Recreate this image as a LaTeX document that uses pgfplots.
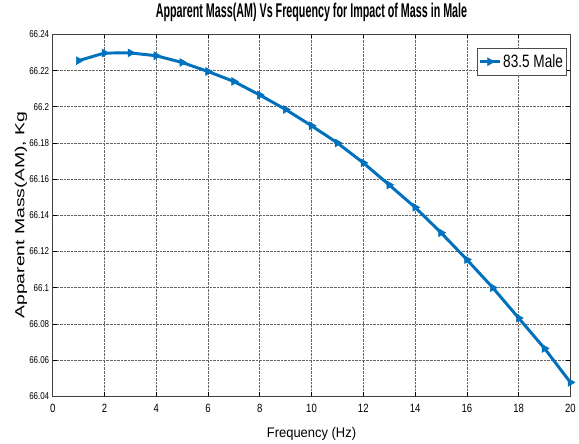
\documentclass[border=0pt]{standalone}
\usepackage{graphicx}
\usepackage{pgfplots}
\pgfplotsset{compat=1.18}
\usepackage{fontspec}
\setmainfont{Liberation Sans}
\newfontfamily\titlefont[FakeStretch=0.54]{Liberation Sans}
\newfontfamily\legfont[FakeStretch=0.76]{Liberation Sans}
\newfontfamily\labfont[FakeStretch=0.93]{Liberation Sans}
\newfontfamily\tickfont[FakeStretch=0.8]{Liberation Sans}
\definecolor{mblue}{RGB}{0,114,189}

\begin{document}
\begin{tikzpicture}
\begin{axis}[
  name=ax,
  scale only axis,
  width=521pt, height=364pt,
  xmin=0, xmax=20, ymin=66.04, ymax=66.24,
  xtick={0,2,...,20},
  ytick={66.04,66.06,66.08,66.1,66.12,66.14,66.16,66.18,66.2,66.22,66.24},
  yticklabels={66.04,66.06,66.08,66.1,66.12,66.14,66.16,66.18,66.2,66.22,66.24},
  /pgf/number format/assume math mode=true,
  yticklabel style={font=\tickfont\fontsize{10}{11}\selectfont, xshift=0pt},
  xticklabel style={font=\tickfont\fontsize{12}{13}\selectfont, yshift=-5pt},
  tick align=inside,
  major tick length=4pt,
  tick style={black, line width=0.6pt},
  grid=major,
  major grid style={densely dotted, gray!80!black, line width=0.6pt},
  axis line style={black!75, line width=0.8pt},
  title={\titlefont\bfseries\fontsize{20}{22}\selectfont Apparent Mass(AM) Vs Frequency for Impact of Mass in Male},
  title style={at={(axis description cs:0.5,1)}, anchor=center, yshift=16pt},
  xlabel={\labfont\fontsize{14}{16}\selectfont Frequency (Hz)},
  xlabel style={at={(axis description cs:0.5,0)}, anchor=center, yshift=-38pt},
  ylabel={\scalebox{1}[0.68]{\fontsize{19.5}{22}\selectfont Apparent Mass(AM), Kg}},
  ylabel style={at={(axis description cs:0,0.5)}, anchor=center, yshift=32pt},
  legend style={at={(rel axis cs:0.992,0.962)}, anchor=north east,
    draw=black!70, line width=0.7pt, fill=white,
    font=\legfont\fontsize{18}{20}\selectfont, inner xsep=1pt, inner ysep=4pt},
  legend cell align=left,
  legend image code/.code={
    \draw[mark repeat=2, mark phase=2] plot coordinates {(0pt,0pt) (10pt,0pt) (20pt,0pt)};},
]
\addplot[color=mblue, line width=3pt, mark=triangle*,
  mark size=4.6pt, mark options={rotate=-90, solid, fill=mblue, line width=0.5pt}]
  coordinates {
  (1,66.2255) (2,66.2297) (3,66.2298) (4,66.2282) (5,66.2245)
  (6,66.2195) (7,66.2140) (8,66.2065) (9,66.1985) (10,66.1895)
  (11,66.1800) (12,66.1690) (13,66.1568) (14,66.1444) (15,66.1304)
  (16,66.1155) (17,66.1000) (18,66.0832) (19,66.0664) (20,66.0476)
  };
\addlegendentry{83.5 Male}
\end{axis}
% page frame around the axis and its labels
\path (ax.south west) ++(-53pt,-48pt) coordinate (bl);
\path (ax.north east) ++(5pt,33pt) coordinate (tr);
\path (bl) rectangle (tr);
\end{tikzpicture}
\end{document}
